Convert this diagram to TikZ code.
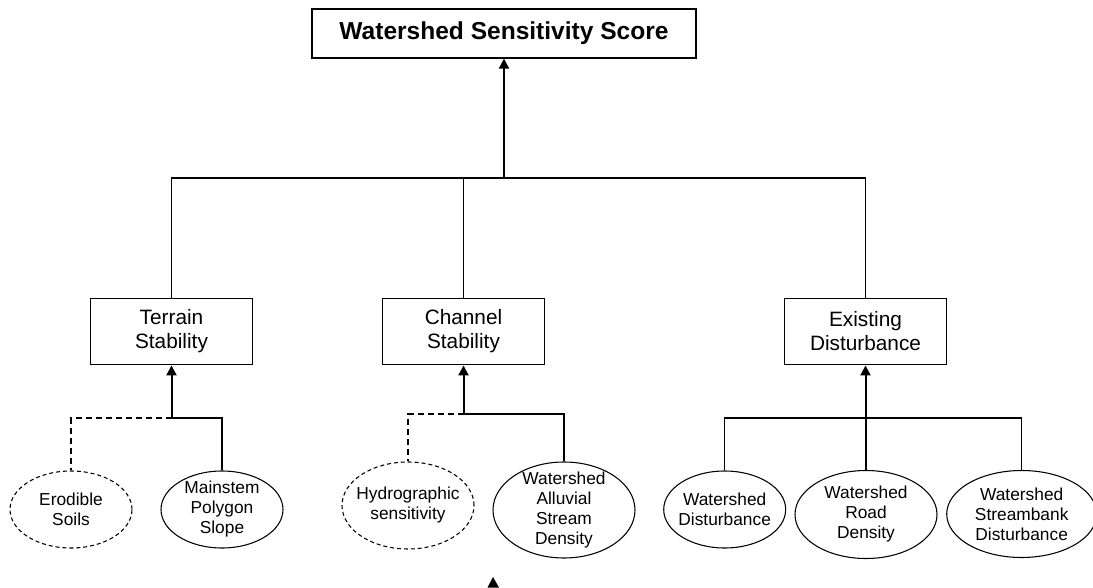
\documentclass[tikz,border=0pt]{standalone}
\usepackage{fontspec}
\setmainfont{Liberation Sans}
\usetikzlibrary{arrows.meta,shapes.geometric}
\begin{document}
\begin{tikzpicture}[x=0.75pt,y=-0.75pt,
  topbox/.style={draw,line width=1pt,minimum width=288pt,minimum height=36.75pt,inner sep=0pt,
    font=\fontsize{18.4}{22}\selectfont\bfseries},
  catbox/.style={draw,line width=0.9pt,minimum width=121pt,minimum height=50pt,inner sep=0pt,align=center,
    font=\fontsize{15.6}{18}\selectfont},
  ellip/.style={draw,ellipse,line width=0.8pt,inner sep=0pt},
  dashellip/.style={ellip,dash pattern=on 3pt off 2.2pt},
  etxt/.style={align=center,font=\fontsize{13}{15}\selectfont,inner sep=0pt},
  conn/.style={line width=1.1pt},
  dashconn/.style={line width=1.1pt,dash pattern=on 4.5pt off 3pt},
  arr/.style={line width=1.5pt,-{Triangle[width=7.5pt,length=7.5pt]}}
]
\useasboundingbox (0,0) rectangle (1093,588);

% top box
\node[topbox] (top) at (504,33.5) {Watershed Sensitivity Score};

% category boxes
\node[catbox] (terrain) at (171.5,331.5) {Terrain\\Stability};
\node[catbox] (channel) at (463.5,331.5) {Channel\\Stability};
\node[catbox] (existing) at (865.5,331.5) {Existing\\Disturbance};

% ellipses
\node[dashellip,minimum width=91.5pt,minimum height=57.75pt] (erodible) at (71,509.5) {};
\node[etxt] (erodibleT) at (erodible.center) {Erodible\\Soils};
\node[ellip,minimum width=91.5pt,minimum height=57.75pt] (mainstem) at (222,509.5) {};
\node[etxt] (mainstemT) at (mainstem.center) {Mainstem\\Polygon\\Slope};

\node[dashellip,minimum width=99pt,minimum height=65.25pt] (hydro) at (408,505.5) {};
\node[etxt] (hydroT) at (hydro.center) {Hydrographic\\sensitivity};
\node[ellip,minimum width=106.5pt,minimum height=72pt] (alluvial) at (564,510) {};
\node[etxt] (alluvialT) at (alluvial.center) {Watershed\\Alluvial\\Stream\\Density};

\node[ellip,minimum width=91.5pt,minimum height=57.75pt] (wdist) at (724.7,509.5) {};
\node[etxt] (wdistT) at (wdist.center) {Watershed\\Disturbance};
\node[ellip,minimum width=106.5pt,minimum height=66pt] (road) at (866,514.5) {};
\node[etxt] (roadT) at (road.center) {Watershed\\Road\\Density};
\node[ellip,minimum width=112.5pt,minimum height=65.25pt] (stream) at (1021.7,514) {};
\node[etxt] (streamT) at (stream.center) {Watershed\\Streambank\\Disturbance};

% top-level bar
\coordinate (barY) at (0,178);
\draw[conn] (terrain.north) -- (terrain.north |- barY) -- (existing.north |- barY) -- (existing.north);
\draw[conn] (channel.north) -- (channel.north |- barY);
\draw[arr] (top.south |- barY) -- (top.south);

% terrain group
\coordinate (tj) at (171.5,418);
\draw[arr] (tj) -- (terrain.south);
\draw[dashconn] (tj) -| (erodible.north);
\draw[conn] (tj) -| (mainstem.north);

% channel group
\coordinate (cj) at (463.5,414);
\draw[arr] (cj) -- (channel.south);
\draw[dashconn] (cj) -| (hydro.north);
\draw[conn] (cj) -| (alluvial.north);

% existing group
\coordinate (ej) at (865.5,418);
\draw[arr] (ej) -- (existing.south);
\draw[conn] (wdist.north) |- (ej) -| (stream.north);
\draw[conn] (road.north) -- (road.north |- ej);

% stray arrowhead
\fill (493,577) -- (487.5,587.5) -- (499,587.5) -- cycle;
\end{tikzpicture}
\end{document}
